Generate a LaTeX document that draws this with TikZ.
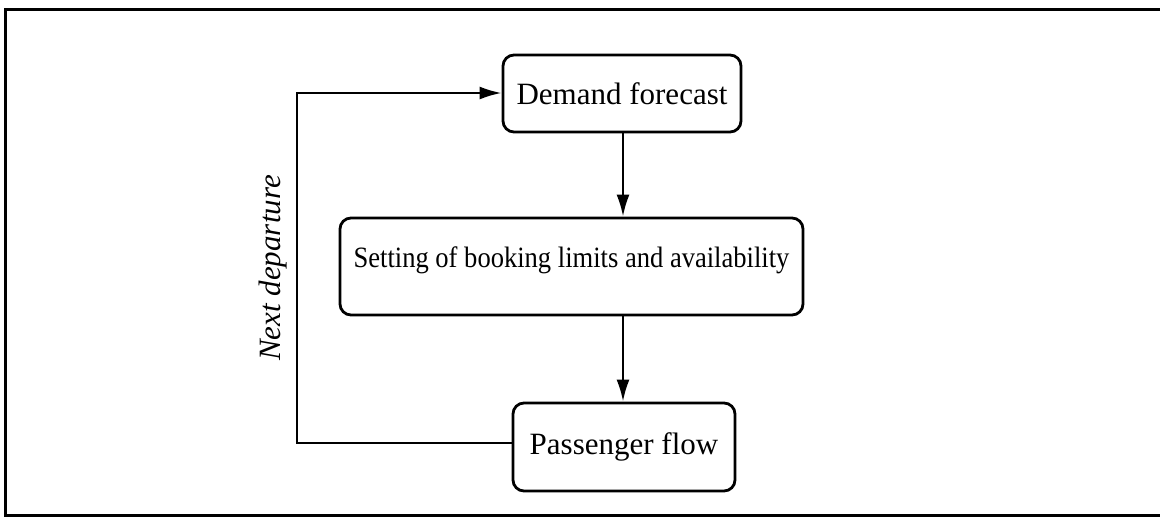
\documentclass[tikz,border=0pt]{standalone}
\usepackage{fontspec}
\setmainfont{Liberation Serif}
\usetikzlibrary{arrows.meta}

\tikzset{
  procbox/.style={draw, line width=2.8pt, rounded corners=11pt, inner sep=0pt,
    align=center, font=\fontsize{31}{35}\selectfont},
  flow/.style={line width=2.4pt, -{Latex[length=22pt,width=13pt]}},
}

\begin{document}
\begin{tikzpicture}[x=1pt,y=-1pt]
  \useasboundingbox (0,0) rectangle (1160,517);

  % outer frame, open past the right edge
  \begin{scope}
    \clip (0,0) rectangle (1160,517);
    \draw[line width=3pt] (1170,9) -- (5,9) -- (5,515) -- (1170,515);
  \end{scope}

  % process boxes
  \node[procbox, minimum width=238pt, minimum height=77pt] (demand) at (622,93.5) {Demand forecast};
  \node[procbox, minimum width=463pt, minimum height=97pt] (setting) at (571.5,266.5)
    {\raisebox{18pt}{\fontsize{29.5}{33}\selectfont\scalebox{0.9}[1]{Setting of booking limits and availability}}};
  \node[procbox, minimum width=222pt, minimum height=88pt] (passenger) at (624,447) {Passenger flow};

  % feedback loop corners
  \coordinate (loopbot) at (297,443);
  \coordinate (looptop) at (297,93);

  % main flow
  \draw[flow] (demand.south -| 623,0) -- (setting.north -| 623,0);
  \draw[flow] (setting.south -| 623,0) -- (passenger.north -| 623,0);

  % return path to the next forecast
  \draw[flow] (passenger.west |- loopbot) -- (loopbot) -- (looptop) -- (demand.west |- looptop);

  \node[rotate=90, font=\fontsize{31}{35}\selectfont\itshape] (next) at (273,268) {Next departure};
\end{tikzpicture}
\end{document}
